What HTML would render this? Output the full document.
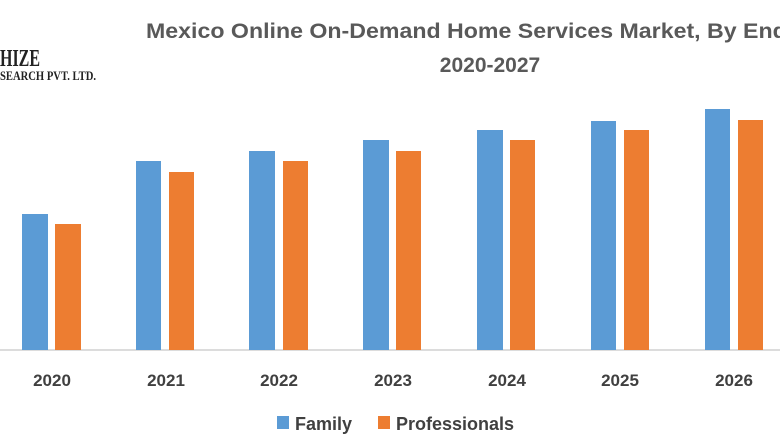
<!DOCTYPE html>
<html><head><meta charset="utf-8"><style>
body{margin:0;width:780px;height:440px;background:#fff;overflow:hidden;font-family:"Liberation Sans",sans-serif}
</style></head><body>
<svg width="780" height="440" xmlns="http://www.w3.org/2000/svg">
<text x="0" y="66" font-family="Liberation Serif" font-weight="bold" font-size="24" fill="#222" textLength="40" lengthAdjust="spacingAndGlyphs">HIZE</text>
<text x="0" y="80" font-family="Liberation Serif" font-weight="bold" font-size="13" fill="#222" textLength="96" lengthAdjust="spacingAndGlyphs">SEARCH PVT. LTD.</text>
<g font-weight="bold" fill="#595959" font-size="21">
<text x="146" y="38" textLength="700" lengthAdjust="spacingAndGlyphs">Mexico Online On-Demand Home Services Market, By End-User</text>
<text x="490" y="72" text-anchor="middle">2020-2027</text>
</g>
<line x1="0" y1="350" x2="780" y2="350" stroke="#d0d0d0" stroke-width="1.5"/>
<g fill="#5b9bd5">
<rect x="22" y="214" width="26" height="136"/>
<rect x="136" y="161" width="25" height="189"/>
<rect x="249" y="151" width="26" height="199"/>
<rect x="363" y="140" width="26" height="210"/>
<rect x="477" y="130" width="26" height="220"/>
<rect x="591" y="121" width="25" height="229"/>
<rect x="705" y="109" width="25" height="241"/>
</g>
<g fill="#ed7d31">
<rect x="55" y="224" width="26" height="126"/>
<rect x="169" y="172" width="25" height="178"/>
<rect x="283" y="161" width="25" height="189"/>
<rect x="396" y="151" width="25" height="199"/>
<rect x="510" y="140" width="25" height="210"/>
<rect x="624" y="130" width="25" height="220"/>
<rect x="738" y="120" width="25" height="230"/>
</g>
<g font-weight="bold" fill="#404040" font-size="17" text-anchor="middle">
<text x="52" y="386">2020</text>
<text x="166" y="386">2021</text>
<text x="279" y="386">2022</text>
<text x="393" y="386">2023</text>
<text x="507" y="386">2024</text>
<text x="620" y="386">2025</text>
<text x="734" y="386">2026</text>
</g>
<rect x="277" y="416" width="12" height="13" fill="#5b9bd5"/>
<rect x="378" y="416" width="12" height="13" fill="#ed7d31"/>
<g font-weight="bold" fill="#404040" font-size="18">
<text x="295" y="430">Family</text>
<text x="396" y="430">Professionals</text>
</g>
</svg>
</body></html>
